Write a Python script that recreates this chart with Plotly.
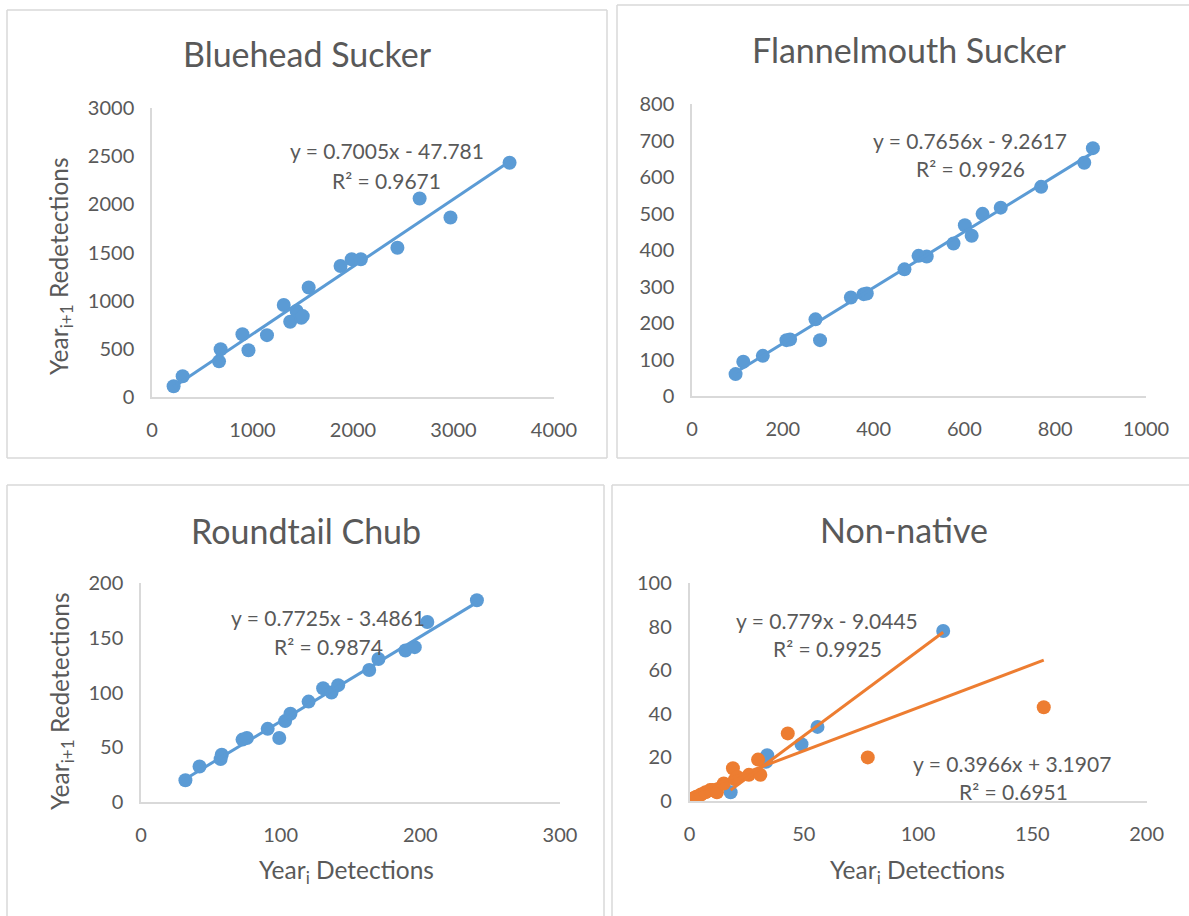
import plotly.graph_objects as go

W, H = 1189, 916
BLUE = "#5b9bd5"
ORANGE = "#ed7d31"
TXT = "#595959"
GRID = "#d9d9d9"
FONT = "Lato"

# ---------------- data ----------------
bluehead_x = [215, 305, 667, 683, 900, 960, 1144, 1311, 1375, 1439, 1486, 1500, 1559, 1876, 1987, 2078, 2442, 2663, 2970, 3558]
bluehead_y = [111, 216, 370, 495, 652, 485, 642, 955, 781, 893, 823, 840, 1137, 1360, 1430, 1430, 1549, 2061, 1863, 2432]
bluehead_fit = [0.7005, -47.781]

flannel_x = [96, 113, 156, 208, 216, 272, 282, 350, 378, 385, 468, 499, 517, 576, 601, 616, 640, 680, 769, 864, 883]
flannel_y = [60, 94, 110, 153, 155, 210, 153, 270, 279, 281, 347, 384, 382, 418, 468, 439, 499, 516, 573, 639, 679]
flannel_fit = [0.7656, -9.2617]

roundtail_x = [31.8, 41.9, 57, 57.8, 72.7, 75.8, 90.7, 99, 103.2, 107, 120, 130.4, 136.4, 141.2, 163.4, 170, 189.3, 196, 205, 240.5]
roundtail_y = [19.8, 32.4, 39.2, 43.2, 57, 58.5, 66.8, 58.5, 73.9, 80.6, 91.7, 103.9, 99.9, 106.7, 120.5, 130.6, 138.3, 141.4, 164.4, 184.3]
roundtail_fit = [0.7725, -3.4861]

nonnative_a_x = [18, 33.5, 34, 49, 56, 111]
nonnative_a_y = [4, 18, 21, 26, 34, 78]
nonnative_a_fit = [0.779, -9.0445]

nonnative_b_x = [1, 2, 3, 5, 7, 9, 10, 12, 15, 19, 20, 21, 26, 31, 30, 43, 78, 155]
nonnative_b_y = [1, 1, 2, 3, 4, 5, 5, 4, 8, 15, 10, 11, 12, 12, 19, 31, 20, 43]
nonnative_all_fit = [0.3966, 3.1907]

titles = ["Bluehead Sucker", "Flannelmouth Sucker", "Roundtail Chub", "Non-native"]
x_ranges = [[0, 4000], [0, 1000], [0, 300], [0, 200]]
y_ranges = [[0, 3000], [0, 800], [0, 200], [0, 100]]
x_dticks = [1000, 200, 100, 50]
y_dticks = [500, 100, 50, 20]
y_title = "Year<sub>i+1</sub> Redetections"
x_title = "Year<sub>i</sub> Detections"

# ---------------- layout helpers (pixel -> paper) ----------------
def px(x):
    return x / W

def py(y):
    return 1 - y / H

# plot-area boxes in pixels: (left, right, top, bottom)
boxes = [(152, 554, 108, 397), (692, 1146, 104, 396), (141, 560, 583, 802), (689.5, 1146.6, 583, 801)]

fig = go.Figure()

def trend(xs, fit):
    lo, hi = min(xs), max(xs)
    return [lo, hi], [fit[0] * lo + fit[1], fit[0] * hi + fit[1]]

mk = dict(size=14, line=dict(width=0))
LW = 3
# panel 1
fig.add_trace(go.Scatter(x=bluehead_x, y=bluehead_y, mode="markers", marker=dict(color=BLUE, **mk), xaxis="x", yaxis="y"))
tx, ty = trend(bluehead_x, bluehead_fit)
fig.add_trace(go.Scatter(x=tx, y=ty, mode="lines", line=dict(color=BLUE, width=LW), xaxis="x", yaxis="y"))
# panel 2
fig.add_trace(go.Scatter(x=flannel_x, y=flannel_y, mode="markers", marker=dict(color=BLUE, **mk), xaxis="x2", yaxis="y2"))
tx, ty = trend(flannel_x, flannel_fit)
fig.add_trace(go.Scatter(x=tx, y=ty, mode="lines", line=dict(color=BLUE, width=LW), xaxis="x2", yaxis="y2"))
# panel 3
fig.add_trace(go.Scatter(x=roundtail_x, y=roundtail_y, mode="markers", marker=dict(color=BLUE, **mk), xaxis="x3", yaxis="y3"))
tx, ty = trend(roundtail_x, roundtail_fit)
fig.add_trace(go.Scatter(x=tx, y=ty, mode="lines", line=dict(color=BLUE, width=LW), xaxis="x3", yaxis="y3"))
# panel 4
all_x = nonnative_b_x + nonnative_a_x
all_y = nonnative_b_y + nonnative_a_y
fig.add_trace(go.Scatter(x=nonnative_a_x, y=nonnative_a_y, mode="markers", marker=dict(color=BLUE, **mk), xaxis="x4", yaxis="y4"))
fig.add_trace(go.Scatter(x=nonnative_b_x, y=nonnative_b_y, mode="markers", marker=dict(color=ORANGE, **mk), xaxis="x4", yaxis="y4"))
tx, ty = trend(nonnative_a_x, nonnative_a_fit)
fig.add_trace(go.Scatter(x=tx, y=ty, mode="lines", line=dict(color=ORANGE, width=LW), xaxis="x4", yaxis="y4"))
tx, ty = trend(all_x, nonnative_all_fit)
fig.add_trace(go.Scatter(x=tx, y=ty, mode="lines", line=dict(color=ORANGE, width=LW), xaxis="x4", yaxis="y4"))

axes = {}
for i, (l, r, t, b) in enumerate(boxes):
    s = "" if i == 0 else str(i + 1)
    common = dict(showgrid=False, zeroline=False, showline=True, linecolor=GRID, linewidth=1.5,
                  ticks="", tickfont=dict(family=FONT, size=20, color=TXT), fixedrange=True,
                  automargin=False)
    axes["xaxis" + s] = dict(domain=[px(l), px(r)], range=x_ranges[i], dtick=x_dticks[i], tick0=0,
                             anchor="y" + s, ticklabelstandoff=14, **common)
    axes["yaxis" + s] = dict(domain=[py(b), py(t)], range=y_ranges[i], dtick=y_dticks[i], tick0=0,
                             anchor="x" + s, ticklabelstandoff=12, **common)

ann = []
def text(x, y, s, size=21, angle=0):
    ann.append(dict(x=px(x), y=py(y), xref="paper", yref="paper", text=s, showarrow=False,
                    textangle=angle, xanchor="center", yanchor="middle",
                    font=dict(family=FONT, size=size, color=TXT)))

# titles
text(307, 53, titles[0], 34)
text(909, 50, titles[1], 34)
text(306, 530, titles[2], 34)
text(904, 529, titles[3], 34)
# equations
text(387, 150, "y = 0.7005x - 47.781")
text(386, 180, "R² = 0.9671")
text(970, 140, "y = 0.7656x - 9.2617")
text(970, 169, "R² = 0.9926")
text(328, 617, "y = 0.7725x - 3.4861")
text(328, 646, "R² = 0.9874")
text(827, 620, "y = 0.779x - 9.0445")
text(827, 648, "R² = 0.9925")
text(1012, 763, "y = 0.3966x + 3.1907")
text(1013, 791, "R² = 0.6951")
# axis titles
text(61, 266, y_title, 24.5, -90)
text(61, 701, y_title, 24.5, -90)
text(346, 871, x_title, 24.5)
text(917, 871, x_title, 24.5)

shapes = []
def seg(x0, y0, x1, y1):
    shapes.append(dict(type="line", xref="paper", yref="paper", x0=px(x0), x1=px(x1), y0=py(y0), y1=py(y1),
                       line=dict(color=GRID, width=1.5), layer="below"))

# panel frames (only the visible edges)
seg(7, 10, 607, 10); seg(7, 10, 7, 458); seg(607, 10, 607, 458); seg(7, 458, 607, 458)
seg(617, 5, 1189, 5); seg(617, 5, 617, 458); seg(617, 458, 1189, 458)
seg(7, 485, 604, 485); seg(7, 485, 7, 916); seg(604, 485, 604, 916)
seg(612, 485, 1189, 485); seg(612, 485, 612, 916)

fig.update_layout(width=W, height=H, margin=dict(l=0, r=0, t=0, b=0, autoexpand=False), showlegend=False,
                  paper_bgcolor="white", plot_bgcolor="white", annotations=ann, shapes=shapes, **axes)

fig.write_html("out.html", config={"displayModeBar": False},
               post_script="document.body.style.margin='0';document.body.style.overflow='hidden';")
